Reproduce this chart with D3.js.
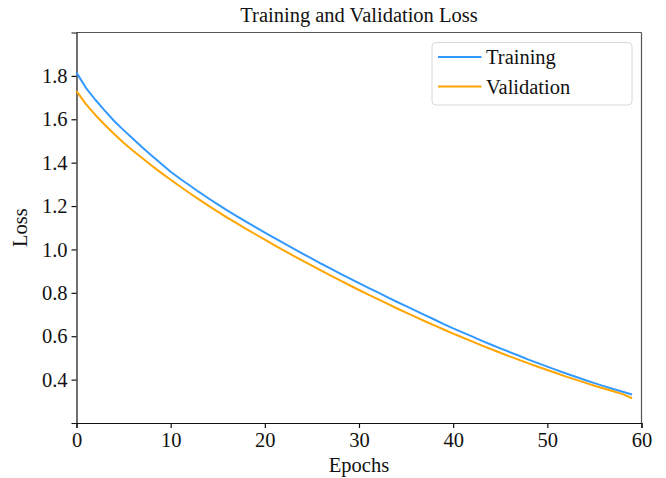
<!DOCTYPE html>
<html>
<head>
<meta charset="utf-8">
<script src="https://cdn.jsdelivr.net/npm/d3@7"></script>
<style>
  body { margin: 0; background: #fff; }
  text { font-family: "Liberation Serif", "Times New Roman", serif; fill: #111; }
</style>
</head>
<body>
<div id="chart"></div>
<script>
// epochs 0..59
const epochs = d3.range(0, 60);

const trainingLoss = [
  1.815, 1.745, 1.690, 1.640, 1.592, 1.550, 1.510, 1.470, 1.432, 1.395,
  1.358, 1.326, 1.296, 1.265, 1.236, 1.208, 1.180, 1.154, 1.128, 1.103,
  1.078, 1.053, 1.029, 1.005, 0.981, 0.958, 0.934, 0.912, 0.889, 0.867,
  0.845, 0.823, 0.802, 0.780, 0.759, 0.739, 0.718, 0.697, 0.677, 0.656,
  0.636, 0.618, 0.599, 0.580, 0.562, 0.544, 0.527, 0.510, 0.492, 0.476,
  0.460, 0.444, 0.428, 0.413, 0.398, 0.384, 0.370, 0.357, 0.344, 0.331
];

const validationLoss = [
  1.730, 1.670, 1.620, 1.575, 1.532, 1.492, 1.455, 1.420, 1.386, 1.353,
  1.321, 1.290, 1.260, 1.231, 1.202, 1.174, 1.147, 1.121, 1.095, 1.070,
  1.045, 1.020, 0.996, 0.972, 0.948, 0.925, 0.902, 0.879, 0.857, 0.835,
  0.813, 0.792, 0.771, 0.750, 0.729, 0.709, 0.689, 0.669, 0.650, 0.631,
  0.612, 0.594, 0.576, 0.558, 0.541, 0.524, 0.507, 0.491, 0.475, 0.459,
  0.444, 0.429, 0.414, 0.400, 0.386, 0.372, 0.359, 0.346, 0.333, 0.314
];

const xTicks = [0, 10, 20, 30, 40, 50, 60];
const yTicks = [0.4, 0.6, 0.8, 1.0, 1.2, 1.4, 1.6, 1.8];

const seriesNames = ["Training", "Validation"];
const seriesColors = ["#3399ff", "#ffa500"];

const width = 666, height = 478;
const margin = { top: 32.5, right: 24.5, bottom: 55, left: 76.5 };
const innerW = width - margin.left - margin.right;
const innerH = height - margin.top - margin.bottom;

const svg = d3.select("#chart")
  .append("svg")
  .attr("width", width)
  .attr("height", height);

const x = d3.scaleLinear().domain([0, 60]).range([margin.left, margin.left + innerW]);
const y = d3.scaleLinear().domain([0.2, 2.0]).range([margin.top + innerH, margin.top]);

// frame (top/right lighter like the reference)
svg.append("line")
  .attr("x1", margin.left).attr("x2", margin.left + innerW)
  .attr("y1", margin.top).attr("y2", margin.top)
  .attr("stroke", "#555").attr("stroke-width", 1.2);
svg.append("line")
  .attr("x1", margin.left + innerW).attr("x2", margin.left + innerW)
  .attr("y1", margin.top).attr("y2", margin.top + innerH)
  .attr("stroke", "#555").attr("stroke-width", 1.2);

// axes
const xAxis = svg.append("g")
  .attr("transform", "translate(0," + (margin.top + innerH) + ")")
  .call(d3.axisBottom(x).tickValues(xTicks).tickSize(5).tickPadding(4).tickFormat(d3.format("d")));

const yAxis = svg.append("g")
  .attr("transform", "translate(" + margin.left + ",0)")
  .call(d3.axisLeft(y).tickValues(yTicks).tickSize(5).tickPadding(4).tickFormat(d3.format(".1f")));

[xAxis, yAxis].forEach(function (a) {
  a.select(".domain").attr("stroke", "#111").attr("stroke-width", 1.2);
  a.selectAll(".tick line").attr("stroke", "#111").attr("stroke-width", 1.2);
  a.selectAll(".tick text")
    .style("font-family", '"Liberation Serif", "Times New Roman", serif')
    .style("font-size", "20.5px")
    .attr("fill", "#111");
});

// lines
const line = d3.line()
  .x(function (d) { return x(d[0]); })
  .y(function (d) { return y(d[1]); });

[trainingLoss, validationLoss].forEach(function (vals, i) {
  svg.append("path")
    .datum(epochs.map(function (e, j) { return [e, vals[j]]; }))
    .attr("fill", "none")
    .attr("stroke", seriesColors[i])
    .attr("stroke-width", 2)
    .attr("stroke-linejoin", "round")
    .attr("d", line);
});

// titles
svg.append("text")
  .attr("x", margin.left + innerW / 2)
  .attr("y", 22)
  .attr("text-anchor", "middle")
  .style("font-size", "20.5px")
  .text("Training and Validation Loss");

svg.append("text")
  .attr("x", margin.left + innerW / 2)
  .attr("y", 472)
  .attr("text-anchor", "middle")
  .style("font-size", "20.5px")
  .text("Epochs");

svg.append("text")
  .attr("transform", "translate(27," + (margin.top + innerH / 2) + ") rotate(-90)")
  .attr("text-anchor", "middle")
  .style("font-size", "20.5px")
  .text("Loss");

// legend
const legend = svg.append("g").attr("transform", "translate(432,42.5)");
legend.append("rect")
  .attr("width", 200).attr("height", 62.5)
  .attr("rx", 4).attr("ry", 4)
  .attr("fill", "#fff")
  .attr("stroke", "#d8d8d8").attr("stroke-width", 1);

seriesNames.forEach(function (name, i) {
  const yy = 14.5 + i * 29.5;
  legend.append("line")
    .attr("x1", 6).attr("x2", 49.5)
    .attr("y1", yy).attr("y2", yy)
    .attr("stroke", seriesColors[i]).attr("stroke-width", 2);
  legend.append("text")
    .attr("x", 54)
    .attr("y", yy + 7)
    .style("font-size", "20.5px")
    .text(name);
});
</script>
</body>
</html>
